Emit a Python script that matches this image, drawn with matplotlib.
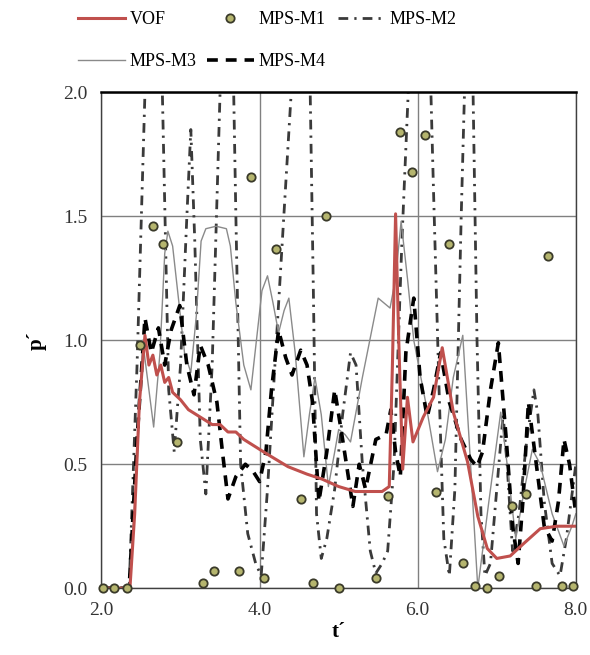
import matplotlib
matplotlib.use('Agg')
from matplotlib import pyplot as plt

plt.rcParams['font.family'] = ['Liberation Serif', 'DejaVu Serif']

# VOF 结果
vof_t = [2.0, 2.36, 2.42, 2.48, 2.55, 2.6, 2.65, 2.7, 2.75, 2.8, 2.85, 2.9, 3.0, 3.1, 3.2,
         3.3, 3.4, 3.5, 3.6, 3.7, 3.8, 3.95, 4.1, 4.36, 4.6, 4.79, 5.0, 5.21, 5.4, 5.55,
         5.64, 5.68, 5.72, 5.76, 5.81, 5.87, 5.94, 6.07, 6.2, 6.31, 6.45, 6.63, 6.76, 6.88,
         7.0, 7.17, 7.34, 7.55, 7.76, 8.0]
vof_p = [0.0, 0.0, 0.3, 0.75, 1.02, 0.9, 0.94, 0.86, 0.9, 0.83, 0.85, 0.79, 0.76, 0.72, 0.7,
         0.68, 0.66, 0.66, 0.63, 0.63, 0.6, 0.57, 0.54, 0.49, 0.46, 0.44, 0.41, 0.39, 0.39, 0.39,
         0.41, 0.9, 1.51, 1.0, 0.48, 0.77, 0.59, 0.69, 0.77, 0.97, 0.71, 0.51, 0.29, 0.16,
         0.12, 0.13, 0.18, 0.24, 0.25, 0.25]

# MPS-M1 散点
m1_t = [2.02, 2.16, 2.32, 2.49, 2.65, 2.78, 2.95, 3.28, 3.42, 3.74, 3.89, 4.05, 4.21, 4.52,
        4.68, 4.84, 5.0, 5.47, 5.63, 5.77, 5.93, 6.09, 6.23, 6.4, 6.57, 6.72, 6.88, 7.03,
        7.19, 7.37, 7.5, 7.65, 7.83, 7.97]
m1_p = [0.0, 0.0, 0.0, 0.98, 1.46, 1.39, 0.59, 0.02, 0.07, 0.07, 1.66, 0.04, 1.37, 0.36,
        0.02, 1.5, 0.0, 0.04, 0.37, 1.84, 1.68, 1.83, 0.39, 1.39, 0.1, 0.01, 0.0, 0.05,
        0.33, 0.38, 0.01, 1.34, 0.01, 0.01]

# MPS-M2
m2_t = [2.0, 2.35, 2.45, 2.55, 2.62, 2.7, 2.77, 2.85, 2.92, 3.0, 3.08, 3.13, 3.18, 3.25,
        3.32, 3.4, 3.5, 3.58, 3.65, 3.7, 3.76, 3.85, 3.95, 4.02, 4.1, 4.25, 4.4, 4.5, 4.58,
        4.64, 4.68, 4.72, 4.78, 4.85, 4.95, 5.05, 5.15, 5.22, 5.3, 5.4, 5.47, 5.55, 5.62,
        5.7, 5.8, 5.88, 5.95, 6.05, 6.15, 6.2, 6.27, 6.33, 6.4, 6.47, 6.55, 6.6, 6.65, 6.7,
        6.75, 6.8, 6.85, 6.92, 7.0, 7.08, 7.13, 7.2, 7.28, 7.38, 7.47, 7.52, 7.6, 7.7, 7.8,
        7.88, 8.0]
m2_p = [0.0, 0.0, 0.9, 2.0, 2.6, 2.6, 2.0, 0.8, 0.55, 0.9, 1.5, 1.85, 1.4, 0.6,
        0.38, 0.9, 2.0, 2.6, 2.4, 1.5, 0.5, 0.22, 0.1, 0.05, 0.4, 1.2, 2.0, 2.6, 2.4,
        2.0, 1.2, 0.3, 0.12, 0.2, 0.4, 0.7, 0.95, 0.9, 0.5, 0.15, 0.06, 0.1, 0.15,
        0.5, 1.4, 2.0, 2.6, 2.6, 2.2, 1.6, 0.8, 0.2, 0.05, 0.4, 1.5, 2.1, 2.5, 2.0,
        1.0, 0.3, 0.05, 0.1, 0.4, 0.7, 0.5, 0.15, 0.3, 0.6, 0.8, 0.7, 0.35, 0.1, 0.05,
        0.2, 0.5]

# MPS-M3
m3_t = [2.0, 2.35, 2.45, 2.52, 2.58, 2.66, 2.74, 2.8, 2.84, 2.9, 2.98, 3.05, 3.13, 3.2, 3.26,
        3.32, 3.45, 3.58, 3.63, 3.7, 3.8, 3.89, 3.96, 4.03, 4.1, 4.17, 4.24, 4.31, 4.37, 4.45,
        4.56, 4.63, 4.7, 4.78, 4.87, 4.95, 5.0, 5.08, 5.15, 5.3, 5.5, 5.65, 5.72, 5.79,
        5.87, 5.95, 6.1, 6.25, 6.35, 6.45, 6.57, 6.65, 6.76, 6.9, 7.05, 7.15, 7.24, 7.35,
        7.45, 7.55, 7.7, 7.85, 7.95, 8.0]
m3_p = [0.0, 0.0, 0.5, 1.0, 0.85, 0.65, 0.95, 1.35, 1.44, 1.38, 1.15, 0.95, 0.87, 1.1, 1.4,
        1.45, 1.46, 1.45, 1.38, 1.15, 0.9, 0.8, 1.0, 1.2, 1.26, 1.15, 1.03, 1.12, 1.17, 0.95,
        0.53, 0.7, 0.85, 0.7, 0.41, 0.55, 0.64, 0.62, 0.59, 0.85, 1.17, 1.13, 1.25, 1.48,
        1.25, 1.0, 0.75, 0.47, 0.6, 0.85, 1.02, 0.6, 0.0, 0.35, 0.71, 0.45, 0.2, 0.4,
        0.56, 0.5, 0.3, 0.17, 0.25, 0.3]

# MPS-M4
m4_t = [2.0, 2.35, 2.45, 2.55, 2.63, 2.72, 2.8, 2.88, 2.99, 3.08, 3.17, 3.25, 3.35, 3.46,
        3.53, 3.6, 3.7, 3.82, 3.92, 4.0, 4.08, 4.15, 4.24, 4.33, 4.41, 4.52,
        4.6, 4.67, 4.75, 4.85, 4.95, 5.05, 5.18, 5.26, 5.34, 5.47, 5.6, 5.66, 5.72, 5.78,
        5.85, 5.95, 6.03, 6.12, 6.2, 6.29, 6.4, 6.55, 6.67, 6.75, 6.82, 6.92, 7.02, 7.12,
        7.2, 7.27, 7.33, 7.4, 7.5, 7.6, 7.7, 7.78, 7.85, 7.92, 8.0]
m4_p = [0.0, 0.0, 0.6, 1.09, 0.95, 1.05, 0.9, 1.04, 1.14, 0.9, 0.78, 0.98, 0.9, 0.75,
        0.55, 0.36, 0.45, 0.5, 0.47, 0.43, 0.55, 0.8, 1.04, 0.93, 0.86, 0.96,
        0.9, 0.75, 0.35, 0.55, 0.8, 0.6, 0.33, 0.5, 0.4, 0.6, 0.62, 0.72, 0.55, 0.45,
        0.95, 1.17, 0.85, 0.69, 0.8, 0.95, 0.75, 0.6, 0.52, 0.49, 0.55, 0.8, 0.99, 0.6,
        0.25, 0.1, 0.35, 0.75, 0.5, 0.25, 0.19, 0.35, 0.6, 0.5, 0.3]

x_ticks = [2.0, 4.0, 6.0, 8.0]
y_ticks = [0.0, 0.5, 1.0, 1.5, 2.0]

fig = plt.figure(figsize=(5.9, 6.55), dpi=100)
ax = fig.add_axes([0.172, 0.102, 0.804, 0.757])

red = '#C0504D'
l2, = ax.plot(m2_t, m2_p, color='#3a3a3a', lw=2.0, dashes=(3.5, 2.2, 0.8, 2.2))
l3, = ax.plot(m3_t, m3_p, color='#8a8a8a', lw=1.0)
l4, = ax.plot(m4_t, m4_p, color='black', lw=2.6, dashes=(3.0, 2.2))
l0, = ax.plot(vof_t, vof_p, color=red, lw=2.2)
l1, = ax.plot(m1_t, m1_p, ls='none', marker='o', ms=6, mfc='#b5b56e', mec='#3a3a2a', mew=1.3,
              clip_on=False, zorder=5)

ax.set_xlim(2.0, 8.0)
ax.set_ylim(0.0, 2.0)
ax.set_xticks(x_ticks)
ax.set_yticks(y_ticks)
ax.set_xticklabels(['%.1f' % v for v in x_ticks])
ax.set_yticklabels(['%.1f' % v for v in y_ticks])
ax.tick_params(length=0, labelsize=14, colors='#333333', pad=10)
ax.grid(True, color='#808080', lw=1.0)
ax.set_axisbelow(True)
for s in ax.spines.values():
    s.set_color('#404040')
    s.set_linewidth(1.0)
ax.spines['top'].set_color('black')
ax.spines['top'].set_linewidth(1.8)

ax.set_xlabel('t´', fontsize=15, fontweight='bold', labelpad=2)
ax.set_ylabel('p´', fontsize=15, fontweight='bold', labelpad=12)

# 图例，每一项单独放
entries = [
    (l0, 'VOF', 78, 20),
    (l1, 'MPS-M1', 207, 20),
    (l2, 'MPS-M2', 338, 20),
    (l3, 'MPS-M3', 78, 62),
    (l4, 'MPS-M4', 207, 62),
]
for h, lab, px, py in entries:
    fig.legend([h], [lab], loc='center left', bbox_to_anchor=(px / 590, 1 - py / 655),
               frameon=False, fontsize=13, handlelength=2.6, handletextpad=0.25,
               borderpad=0, borderaxespad=0)

plt.savefig('out.png', dpi=100)
